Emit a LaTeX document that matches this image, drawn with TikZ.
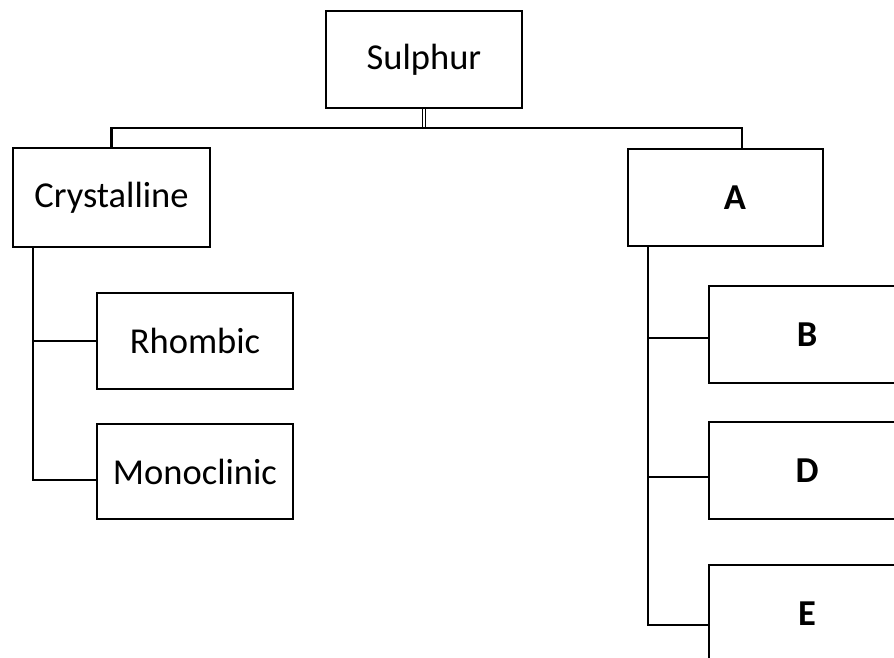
\documentclass[tikz,border=0pt]{standalone}
\usepackage{fontspec}
\setmainfont{Carlito}
\begin{document}
\begin{tikzpicture}[x=1pt,y=-1pt,
  box/.style={draw,line width=2.1pt,rectangle,inner sep=0pt,font=\fontsize{36.5}{43}\selectfont},
  bbox/.style={box,font=\fontsize{36.5}{43}\selectfont\bfseries},
  conn/.style={line width=2.1pt}]
\useasboundingbox (0,0) rectangle (894,658);
\clip (0,0) rectangle (894,658);
\node[box,minimum width=196pt,minimum height=97pt] (sulphur) at (424,59.5) {Sulphur};
\node[box,minimum width=197pt,minimum height=99pt] (crys) at (111.5,197.5) {Crystalline};
\node[bbox,minimum width=195pt,minimum height=97pt] (A) at (725.5,197.5) {\hspace*{19pt}A};
\node[box,minimum width=196pt,minimum height=96pt] (rhombic) at (195,341) {Rhombic};
\node[box,minimum width=196pt,minimum height=95pt] (mono) at (195,471.5) {Monoclinic};
\node[bbox,minimum width=196pt,minimum height=97pt] (B) at (807,334.5) {B};
\node[bbox,minimum width=196pt,minimum height=97pt] (D) at (807,470.5) {D};
\node[bbox,minimum width=196pt,minimum height=97pt] (E) at (807,613.5) {E};
\coordinate (j) at (424,128);
\coordinate (ra) at (742,128);
\coordinate (lt) at (33,0);
\coordinate (rt) at (648,0);
\draw[double,double distance=1.6pt,line width=1.1pt] (sulphur.south) -- (j);
\draw[conn] (crys.north) |- (ra) -- (ra |- A.north);
\draw[conn] (lt |- crys.south) |- ([yshift=-8.5pt]mono.west);
\draw[conn] (lt |- rhombic.west) -- (rhombic.west);
\draw[conn] (rt |- A.south) |- ([yshift=-11.5pt]E.west);
\draw[conn] (rt |- B.west) ++(0,3.5) -- ([yshift=-3.5pt]B.west);
\draw[conn] (rt |- D.west) ++(0,6.5) -- ([yshift=-6.5pt]D.west);
\end{tikzpicture}
\end{document}
